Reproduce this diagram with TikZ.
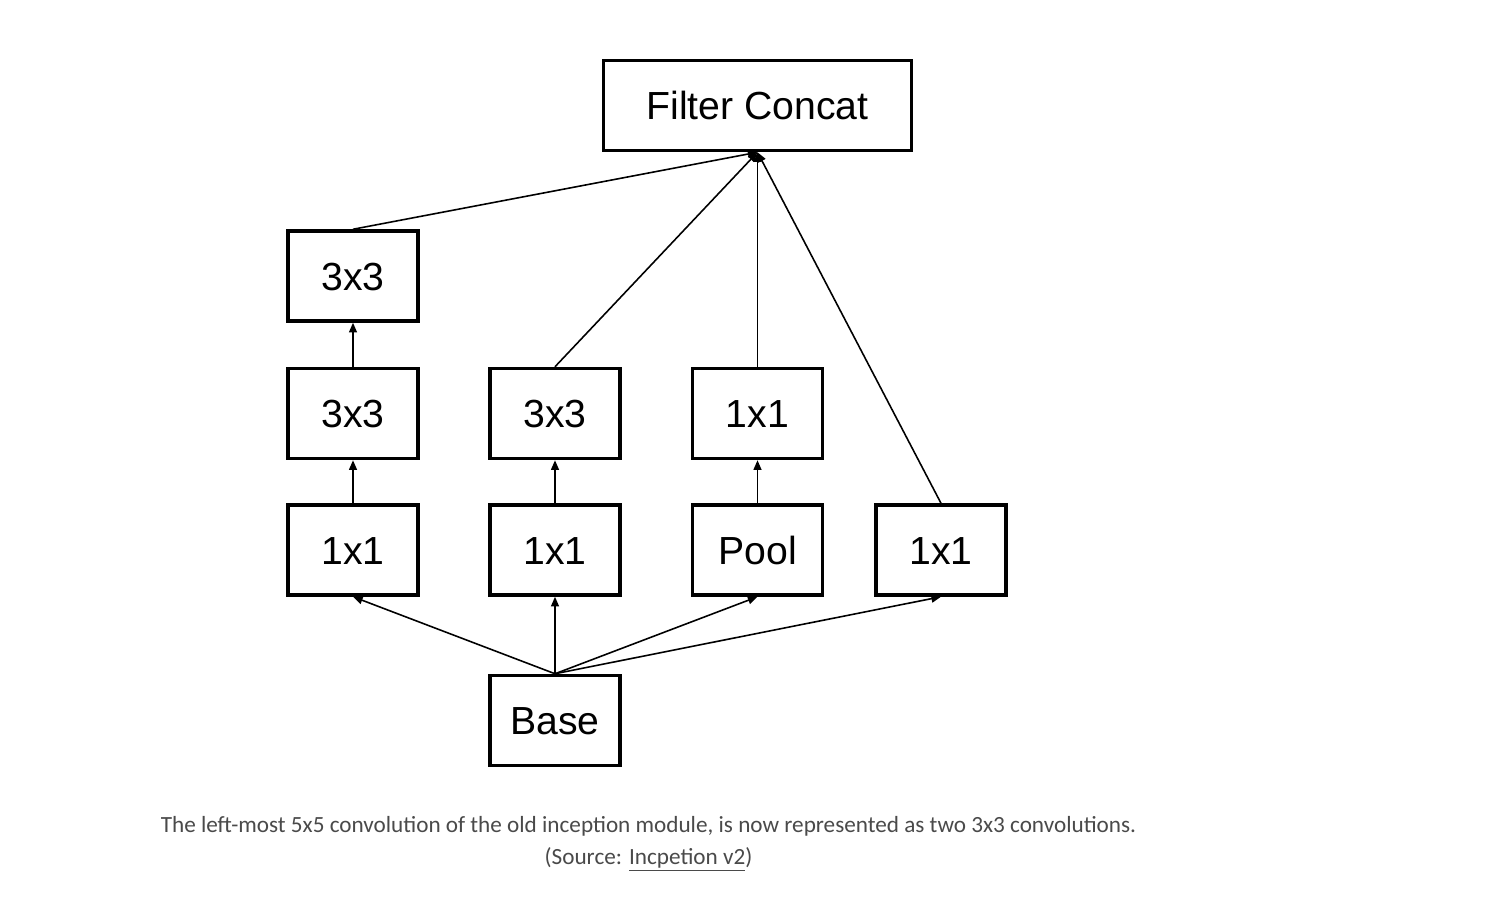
\documentclass[tikz,border=0pt]{standalone}
\usepackage{fontspec}
\setmainfont{Liberation Sans}
\newfontfamily\captionfont{Carlito}
\usetikzlibrary{arrows.meta}
\definecolor{captiongray}{HTML}{4A4A4A}
\begin{document}
\begin{tikzpicture}[x=0.02cm,y=-0.02cm,
  layer/.style={draw=black,line width=2pt,fill=white,minimum width=2.6cm,
    minimum height=1.8cm,inner sep=0pt,text height=16pt,text depth=0pt,
    font=\fontsize{22.3}{26}\selectfont},
  flow/.style={line width=0.9pt,-{Triangle[length=5.5pt,width=4.5pt]}},
  note/.style={font=\captionfont\fontsize{13.2}{18.2}\selectfont,text=captiongray,align=center}]
\useasboundingbox[fill=white] (0,0) rectangle (1508,900);

% output
\node[layer,minimum width=6.16cm,minimum height=1.8cm] (fc) at (757.5,105.5) {Filter Concat};

% left branch: two stacked 3x3 after a 1x1
\node[layer] (l3) at (353,276) {3x3};
\node[layer] (l2) at (353,413.5) {3x3};
\node[layer] (l1) at (353,550) {1x1};

% second branch
\node[layer] (m2) at (555,413.5) {3x3};
\node[layer] (m1) at (555,550) {1x1};

% pooling branch
\node[layer] (p2) at (757.5,413.5) {1x1};
\node[layer] (p1) at (757.5,550) {Pool};

% single 1x1 branch
\node[layer] (r1) at (941,550) {1x1};

% input
\node[layer] (base) at (555,720.5) {Base};

% base to first layers
\draw[flow] (base.north) -- (l1.south);
\draw[flow] (base.north) -- (m1.south);
\draw[flow] (base.north) -- (p1.south);
\draw[flow] (base.north) -- (r1.south);

% within branches
\draw[flow] (l1.north) -- (l2.south);
\draw[flow] (l2.north) -- (l3.south);
\draw[flow] (m1.north) -- (m2.south);
\draw[flow] (p1.north) -- (p2.south);

% into the concat
\draw[flow] (l3.north) -- (fc.south);
\draw[flow] (m2.north) -- (fc.south);
\draw[flow] (p2.north) -- (fc.south);
\draw[flow] (r1.north) -- (fc.south);

% caption
\node[note] (cap) at (648.5,844) {The left-most 5x5 convolution of the old inception module, is now represented as two 3x3 convolutions.\\
(Source: \underline{Incpetion v2})};
\end{tikzpicture}
\end{document}
